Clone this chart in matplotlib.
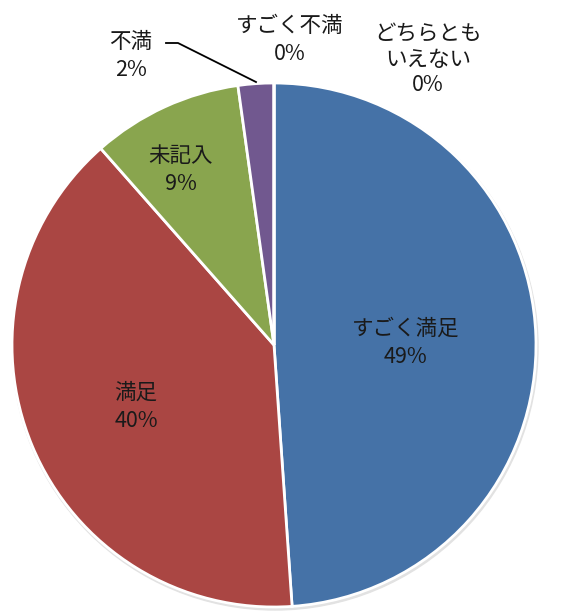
import matplotlib
matplotlib.use("Agg")
from matplotlib import pyplot as plt
from matplotlib.patches import Circle

plt.rcParams['font.family'] = ['Noto Sans CJK JP', 'DejaVu Sans']

# slices, clockwise from 12 o'clock
labels = ["すごく満足", "満足", "未記入", "不満", "すごく不満", "どちらとも\nいえない"]
values = [48.9, 39.6, 9.3, 2.2, 0.0, 0.0]
colors = ["#4572A7", "#AA4643", "#89A54E", "#71588F", "#4198AF", "#DB843D"]

W, H = 575, 614
fig = plt.figure(figsize=(W / 100, H / 100), dpi=100)
ax = fig.add_axes([0, 0, 1, 1])

cx, cy, r = 274, H - 345, 262

# faint shadow under the pie
ax.add_patch(Circle((cx + 1, cy - 2), r + 1, color="#e2e2e2", zorder=0))

ax.pie(values, colors=colors, startangle=90, counterclock=False,
       center=(cx, cy), radius=r, frame=True,
       wedgeprops=dict(edgecolor="white", linewidth=2))
ax.set_xlim(0, W)
ax.set_ylim(0, H)
ax.set_aspect("equal")
ax.axis("off")


def lab(i, x, y, ls=1.35):
    txt = f"{labels[i]}\n{values[i]:.0f}%"
    ax.text(x, H - y, txt, ha="center", va="center", fontsize=15.5,
            color="#1a1a1a", linespacing=ls, zorder=5)


lab(0, 406, 343)
lab(1, 136, 407)
lab(2, 181, 170)
lab(3, 131, 56)
lab(4, 290, 40)
lab(5, 428, 60, ls=1.2)

# leader line for 不満
ax.plot([166, 178, 256], [H - 43, H - 43, H - 82], color="black", lw=1.3, zorder=4)

fig.savefig("out.png", dpi=100)
